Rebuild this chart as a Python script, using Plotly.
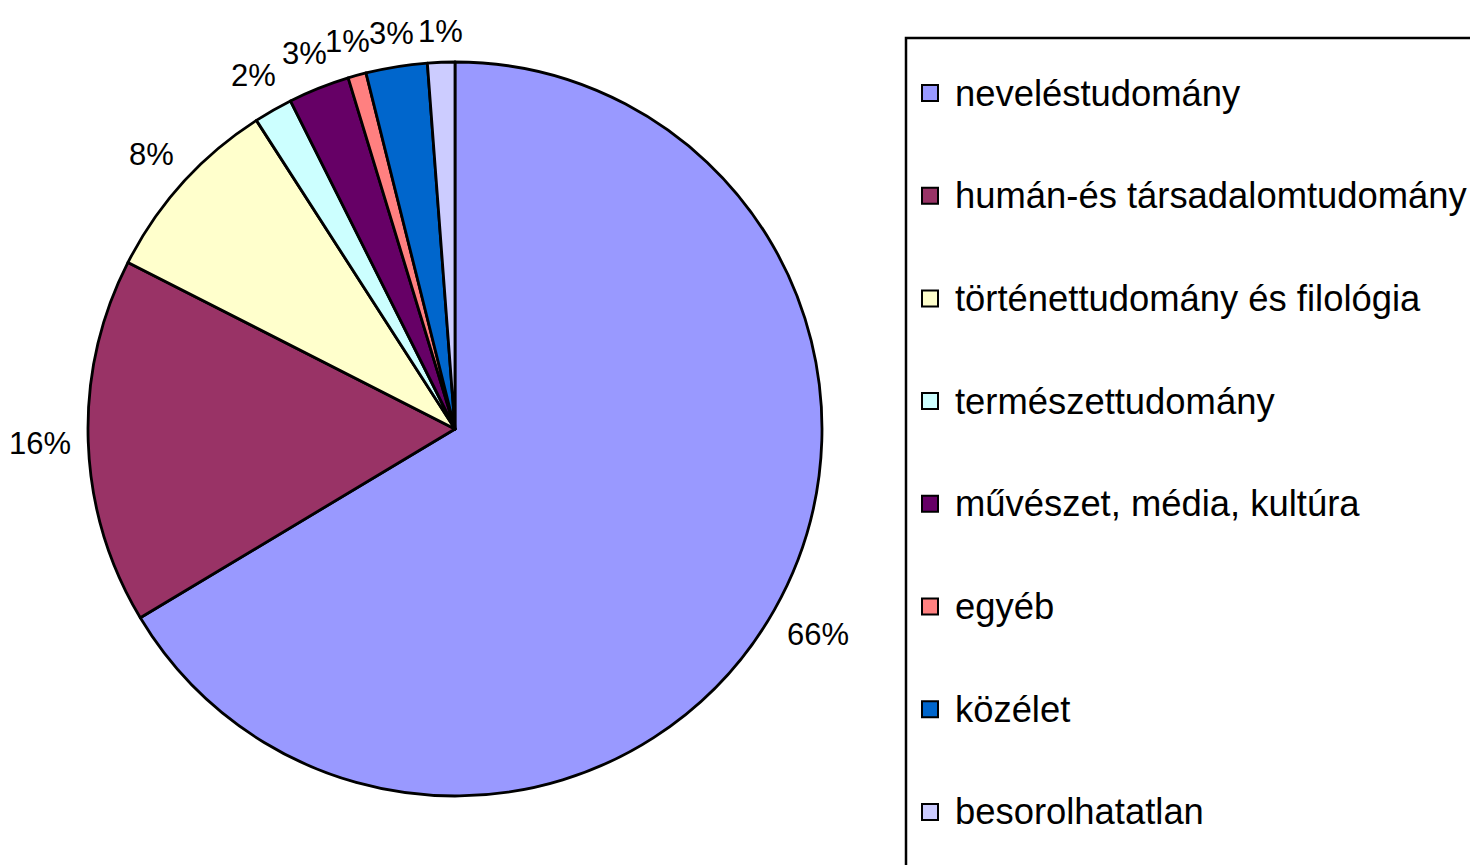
import math
import plotly.graph_objects as go

# categories (Hungarian labels) and their shares in percent
categories = [
    "neveléstudomány",
    "humán-és társadalomtudomány",
    "történettudomány és filológia",
    "természettudomány",
    "művészet, média, kultúra",
    "egyéb",
    "közélet",
    "besorolhatatlan",
]
shares = [66.4, 16.1, 8.4, 1.7, 2.7, 0.8, 2.7, 1.2]
colors = ["#9999FF", "#993366", "#FFFFCC", "#CCFFFF", "#660066", "#FF8080", "#0066CC", "#CCCCFF"]

W, H = 1478, 865
OFF = 8                              # page body margin the figure sits in
font = "Liberation Sans, Arial, sans-serif"
cx, cy, r = 455, 429, 367            # pie centre / radius in window pixels
lbl_size = 31
leg_size = 36.4


def px(x, y):
    # window pixel -> paper coordinates
    return (x - OFF) / W, 1 - (y - OFF) / H


fig = go.Figure()
fig.add_trace(go.Pie(
    labels=categories, values=shares,
    sort=False, direction="clockwise", rotation=0,
    marker=dict(colors=colors, line=dict(color="black", width=2.8)),
    textinfo="none", hoverinfo="label+percent",
    showlegend=False,
    domain=dict(x=[(cx - r - OFF) / W, (cx + r - OFF) / W],
                y=[(H - (cy - OFF) - r) / H, (H - (cy - OFF) + r) / H]),
))

annotations = []
shapes = []

# percentage labels outside each slice, along the slice bisector
total = sum(shares)
cum = 0
for s in shares:
    mid = (cum + s / 2) / total * 2 * math.pi
    cum += s
    txt = f"{round(s / total * 100)}%"
    dx, dy = math.sin(mid), -math.cos(mid)
    hw = 0.5 * lbl_size * (0.556 * (len(txt) - 1) + 0.889)
    hh = 13
    dist = r + 17 + abs(dx) * hw + abs(dy) * hh
    x, y = px(cx + dx * dist, cy + dy * dist)
    annotations.append(dict(x=x, y=y, xref="paper", yref="paper", text=txt, showarrow=False,
                            xanchor="center", yanchor="middle",
                            font=dict(family=font, size=lbl_size, color="black")))

# legend
leg_top, leg_step = 93, 102.7
for i, (c, col) in enumerate(zip(categories, colors)):
    yc = leg_top + i * leg_step
    x0, y0 = px(922, yc - 8)
    x1, y1 = px(938, yc + 8)
    shapes.append(dict(type="rect", xref="paper", yref="paper", x0=x0, x1=x1, y0=y1, y1=y0,
                       fillcolor=col, line=dict(color="black", width=2)))
    tx, ty = px(953, yc)
    annotations.append(dict(x=tx, y=ty, xref="paper", yref="paper", text=c, showarrow=False,
                            xanchor="left", yanchor="middle",
                            font=dict(family=font, size=leg_size, color="black")))

bx0, by1 = px(906, 38)
shapes.insert(0, dict(type="rect", xref="paper", yref="paper", x0=bx0, x1=1.05, y0=-0.05, y1=by1,
                      line=dict(color="black", width=2.5), fillcolor="white", layer="below"))

fig.update_layout(
    width=W, height=H,
    margin=dict(l=0, r=0, t=0, b=0),
    paper_bgcolor="white", plot_bgcolor="white",
    showlegend=False,
    annotations=annotations,
    shapes=shapes,
)

fig.write_html("out.html")
